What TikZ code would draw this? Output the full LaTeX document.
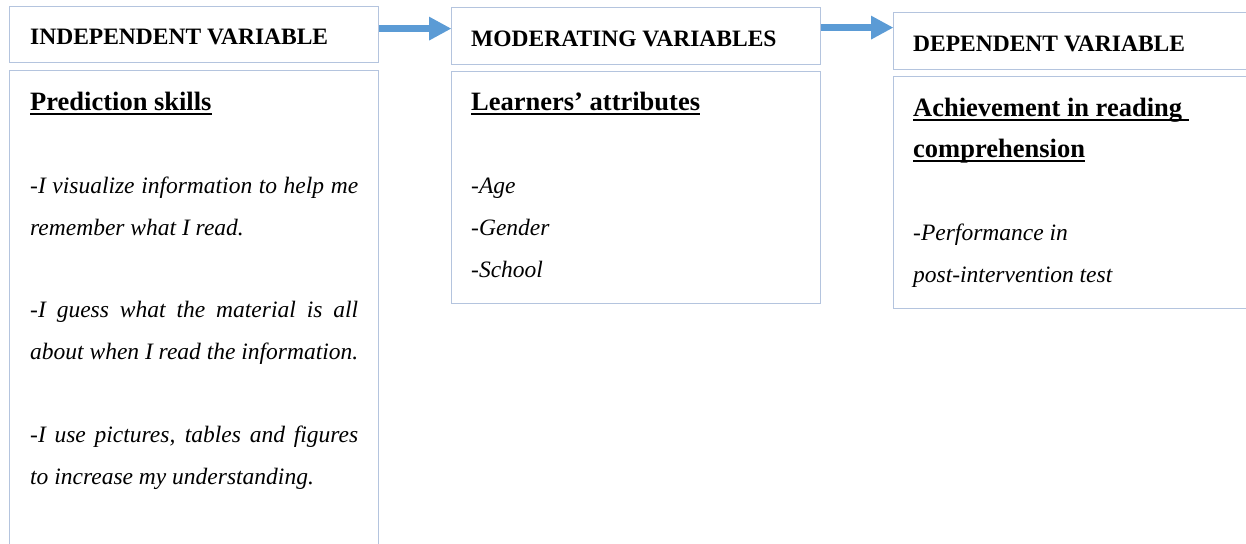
\documentclass[tikz,border=0pt]{standalone}
\usepackage{fontspec}
\setmainfont{Liberation Serif}
\usepackage{xcolor}
\usetikzlibrary{positioning,arrows.meta}
\definecolor{boxline}{RGB}{180,196,222}
\definecolor{flowblue}{RGB}{91,155,213}
\newcommand{\thickul}[1]{\setbox0\hbox{#1}\rlap{\rule[-5pt]{\wd0}{2.4pt}}\box0}

\begin{document}
\begin{tikzpicture}[x=1pt,y=-1pt,
    box/.style={draw=boxline,line width=1.2pt,fill=white,rectangle,inner sep=0pt,anchor=north west},
    txt/.style={anchor=base west,inner sep=0pt,font=\fontsize{23.5}{41.5}\selectfont},
    sub/.style={anchor=base west,inner sep=0pt,font=\fontsize{26.5}{41.5}\selectfont\bfseries},
    flow/.style={draw=flowblue,line width=7pt,-{Triangle[length=22pt,width=24pt,line width=0pt]}}]

        \useasboundingbox (0,0) rectangle (1246,543);

        \node[box,minimum width=369pt,minimum height=56pt] (ihead) at (9,6) {};
        \node[box,minimum width=369pt,minimum height=480pt] (ibody) at (9,70) {};
        \node[box,minimum width=369pt,minimum height=57pt] (mhead) at (451,7) {};
        \node[box,minimum width=369pt,minimum height=232pt] (mbody) at (451,71) {};
        \node[box,minimum width=370pt,minimum height=57pt] (dhead) at (893,12) {};
        \node[box,minimum width=370pt,minimum height=232pt] (dbody) at (893,76) {};

        \node[txt] (ititle) at (30,45) {\textbf{INDEPENDENT VARIABLE}};
        \node[txt] (mtitle) at (471,47) {\textbf{MODERATING VARIABLES}};
        \node[txt] (dtitle) at (913,52) {\textbf{DEPENDENT VARIABLE}};

        \node[sub] (iskill) at (30,110) {\thickul{Prediction skills}};
        \node[txt] (i1) at (30,193) {\makebox[328pt][s]{\itshape -I visualize information to help me}};
        \node[txt] (i2) at (30,235) {\itshape remember what I read.};
        \node[txt] (i3) at (30,317) {\makebox[328pt][s]{\itshape -I guess what the material is all}};
        \node[txt] (i4) at (30,359) {\makebox[328pt][s]{\itshape about when I read the information.}};
        \node[txt] (i5) at (30,442) {\makebox[328pt][s]{\itshape -I use pictures, tables and figures}};
        \node[txt] (i6) at (30,484) {\itshape to increase my understanding.};

        \node[sub] (mattr) at (471,110) {\thickul{Learners’ attributes}};
        \node[txt] (m1) at (471,193) {\itshape -Age};
        \node[txt] (m2) at (471,235) {\itshape -Gender};
        \node[txt] (m3) at (471,277) {\itshape -School};

        \node[sub] (dach) at (913,116) {\thickul{Achievement in reading\ }};
        \node[sub] (dcomp) at (913,157) {\thickul{comprehension}};
        \node[txt] (d1) at (913,240) {\itshape -Performance in};
        \node[txt] (d2) at (913,282) {\itshape post-intervention test};

        \draw[flow] ([yshift=6pt]ihead.east) to ([yshift=7.5pt]mhead.west);
        \draw[flow] ([yshift=8.5pt]mhead.east) to ([yshift=13.5pt]dhead.west);
    \end{tikzpicture}
\end{document}
